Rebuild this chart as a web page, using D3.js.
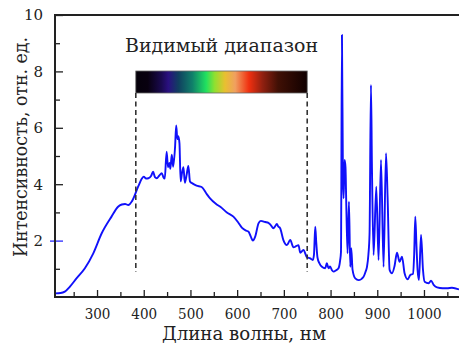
<!DOCTYPE html>
<html><head><meta charset="utf-8">
<script src="https://cdn.jsdelivr.net/npm/d3@7"></script>
<style>body{margin:0;background:#fff}svg{display:block}</style>
</head><body>
<svg id="c" width="459" height="345"></svg>
<script>
const wavelength = [210,222,231,242,256,274,292,310,331,345,353,360,367,375,388,396,400,405,410,416,420,424,428,433,438.6,442,445,449,452,455,457,460,463,467,469.5,472,474,476.5,479,482,485,488,492,495.5,499,505,513,524,535,542,555,564,578,592,602,610,618,624,629,633.7,638.6,645.7,650.8,660,667,672,677.8,681,685,688,692,699,706.5,713.6,720.7,726,731.4,735,742,749.4,756.5,762,764.5,767.2,769.5,772,776,781.5,788.6,792,795.7,799,803,806.4,812,817,820.5,822.3,824.4,826.5,828,830,832,833.6,836.4,839.4,842.2,844.3,847.1,852.9,860,870.7,875,878,881,883.5,886.5,888.7,892.1,897.9,902.8,908,913.5,918.7,922.1,926.4,931.5,937,942.2,947.8,952.9,958.5,964.9,970.8,976.4,979,981.4,984,986.3,989.3,993.7,997.9,1001.4,1010,1015.1,1020.7,1028,1040,1049.4,1060,1075];
const intensity = [0.13,0.14,0.19,0.37,0.66,1.02,1.55,2.26,2.85,3.2,3.28,3.3,3.26,3.4,3.91,4.2,4.27,4.2,4.21,4.3,4.44,4.25,4.21,4.3,4.39,4.25,4.2,5.15,4.6,4.75,4.55,5.05,4.62,5.3,6.08,5.6,5.7,5.45,4.1,4.4,4.6,4.05,4.35,4.65,4.1,4.02,3.95,3.9,3.65,3.5,3.3,3.2,3.0,2.85,2.65,2.46,2.36,2.32,2.15,2.0,2.14,2.61,2.7,2.66,2.63,2.55,2.44,2.5,2.59,2.5,2.44,2.02,1.84,2.02,1.76,1.8,1.84,1.57,1.67,1.41,1.37,1.31,1.5,2.49,1.9,1.4,1.2,1.07,1.02,1.2,1.02,1.08,0.95,0.9,0.95,1.02,1.3,1.6,9.29,4.2,3.5,4.86,4.6,3.32,1.55,3.38,1.07,1.73,0.96,0.66,0.6,0.72,0.9,1.07,1.5,2.26,7.52,4.5,1.49,3.91,1.31,4.86,1.07,5.1,3.56,0.96,0.84,1.1,1.57,1.25,1.43,0.84,0.63,0.78,0.82,1.5,2.85,1.8,0.96,0.6,2.2,0.96,0.54,0.49,0.58,0.43,0.34,0.31,0.31,0.33,0.27];
const yTickLabels = [2,4,6,8,10];
const yMinorTicks = [1,3,5,7,9];
const xTickLabels = [300,400,500,600,700,800,900,1000];
const xMinorTicks = [250,350,450,550,650,750,850,950,1050];
const visibleRange = [383, 750];
const spectrumStops = [
  [0,"#05000a"],[0.07,"#08000f"],[0.15,"#1a0a50"],[0.19,"#2a1080"],[0.25,"#104060"],
  [0.33,"#10806a"],[0.41,"#20e060"],[0.46,"#90e030"],[0.52,"#e8c030"],[0.58,"#f0a060"],
  [0.66,"#f03010"],[0.74,"#902010"],[0.83,"#401005"],[1,"#100000"]
];

const svg = d3.select("#c");
const x = d3.scaleLinear().domain([210,1075]).range([55,459]);
const y = d3.scaleLinear().domain([0,10]).range([297,15]);
const font = "DejaVu Serif";
const ink = "#222";

svg.append("defs").append("clipPath").attr("id","pc")
  .append("rect").attr("x",55).attr("y",10).attr("width",410).attr("height",287);

const grad = svg.select("defs").append("linearGradient").attr("id","spec")
  .attr("x1","0%").attr("x2","100%").attr("y1","0%").attr("y2","0%");
spectrumStops.forEach(s=>grad.append("stop").attr("offset",s[0]).attr("stop-color",s[1]));

const line = d3.line().x((d,i)=>x(wavelength[i])).y(d=>y(d)).curve(d3.curveMonotoneX);
svg.append("path").datum(intensity).attr("clip-path","url(#pc)")
  .attr("d",line).attr("fill","none").attr("stroke","#1010fa").attr("stroke-width",1.9)
  .attr("stroke-linejoin","round");

const yAxis = d3.axisLeft(y).tickValues(yTickLabels).tickSize(-8).tickPadding(12).tickFormat(d3.format("d"));
const gy = svg.append("g").attr("transform","translate(55,0)").call(yAxis);
const yMin = d3.axisLeft(y).tickValues(yMinorTicks).tickSize(-5).tickFormat("");
const gym = svg.append("g").attr("transform","translate(55,0)").call(yMin);
const xAxis = d3.axisBottom(x).tickValues(xTickLabels).tickSize(-7).tickPadding(11).tickFormat(d3.format("d"));
const gx = svg.append("g").attr("transform","translate(0,297)").call(xAxis);
const xMin = d3.axisBottom(x).tickValues(xMinorTicks).tickSize(-5).tickFormat("");
const gxm = svg.append("g").attr("transform","translate(0,297)").call(xMin);
[gy,gym,gx,gxm].forEach(g=>{
  g.attr("font-family",font).attr("font-size",15);
  g.select(".domain").remove();
  g.selectAll(".tick line").attr("stroke",ink).attr("stroke-width",1.3);
  g.selectAll(".tick text").attr("fill",ink);
});
gx.selectAll(".tick text").attr("textLength",d=>String(d).length*8.6).attr("lengthAdjust","spacingAndGlyphs");
gy.selectAll(".tick").filter(d=>d===2).select("line").attr("stroke","#2a2aff").attr("x1",-5);

svg.append("line").attr("x1",55).attr("x2",55).attr("y1",14).attr("y2",298).attr("stroke",ink).attr("stroke-width",2);
svg.append("line").attr("x1",54).attr("x2",459).attr("y1",297).attr("y2",297).attr("stroke",ink).attr("stroke-width",2);
svg.append("line").attr("x1",54).attr("x2",459).attr("y1",15).attr("y2",15).attr("stroke",ink).attr("stroke-width",2);

const bx0 = x(visibleRange[0]), bx1 = x(visibleRange[1]);
svg.append("rect").attr("x",bx0).attr("y",71).attr("width",bx1-bx0).attr("height",22)
  .attr("fill","url(#spec)").attr("stroke","#666").attr("stroke-width",0.8);
[bx0,bx1].forEach(bx=>{
  svg.append("line").attr("x1",bx).attr("x2",bx).attr("y1",93).attr("y2",272)
    .attr("stroke","#333").attr("stroke-width",1.6).attr("stroke-dasharray","5,3.5");
});
svg.append("text").attr("x",125).attr("y",52)
  .attr("font-family",font).attr("font-size",18).attr("fill",ink)
  .attr("textLength",193).attr("lengthAdjust","spacingAndGlyphs").text("Видимый диапазон");

svg.append("text").attr("x",162).attr("y",340)
  .attr("font-family",font).attr("font-size",18).attr("fill",ink)
  .attr("textLength",164).attr("lengthAdjust","spacingAndGlyphs").text("Длина волны, нм");
svg.append("text").attr("transform","translate(27,257) rotate(-90)")
  .attr("font-family",font).attr("font-size",18).attr("fill",ink)
  .attr("textLength",220).attr("lengthAdjust","spacingAndGlyphs").text("Интенсивность,  отн. ед.");
</script>
</body></html>
